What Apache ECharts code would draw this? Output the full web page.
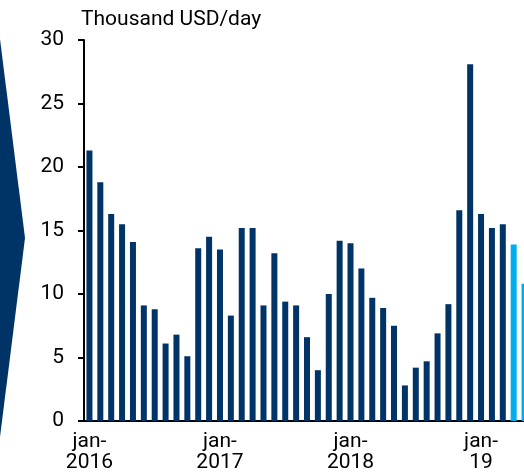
<!DOCTYPE html>
<html>
<head>
<meta charset="utf-8">
<script src="https://cdn.jsdelivr.net/npm/echarts@6/dist/echarts.min.js"></script>
<style>
  html, body { margin: 0; padding: 0; background: #fff; }
  #chart { width: 524px; height: 474px; }
</style>
</head>
<body>
<div id="chart"></div>
<script>
// monthly data, jan 2016 - may 2019
const months = [
  '2016-01', '2016-02', '2016-03', '2016-04', '2016-05', '2016-06', '2016-07', '2016-08', '2016-09', '2016-10', '2016-11', '2016-12',
  '2017-01', '2017-02', '2017-03', '2017-04', '2017-05', '2017-06', '2017-07', '2017-08', '2017-09', '2017-10', '2017-11', '2017-12',
  '2018-01', '2018-02', '2018-03', '2018-04', '2018-05', '2018-06', '2018-07', '2018-08', '2018-09', '2018-10', '2018-11', '2018-12',
  '2019-01', '2019-02', '2019-03', '2019-04', '2019-05'
];
const rates = [
  21.3, 18.8, 16.3, 15.5, 14.1, 9.1, 8.8, 6.1, 6.8, 5.1, 13.6, 14.5,
  13.5, 8.3, 15.2, 15.2, 9.1, 13.2, 9.4, 9.1, 6.6, 4.0, 10.0, 14.2,
  14.0, 12.0, 9.7, 8.9, 7.5, 2.8, 4.2, 4.7, 6.9, 9.2, 16.6, 28.1,
  16.3, 15.2, 15.5, 13.9, 10.8
];
// last two months drawn in light blue
const highlightFrom = 39;
const tickLabels = { '2016-01': 'jan-\n2016', '2017-01': 'jan-\n2017', '2018-01': 'jan-\n2018', '2019-01': 'jan-\n19' };

const navy = '#003366';
const lightBlue = '#00AEEF';

const chart = echarts.init(document.getElementById('chart'));

chart.setOption({
  animation: false,
  textStyle: { fontFamily: 'Roboto' },
  title: {
    text: 'Thousand USD/day',
    left: 76,
    top: 4,
    textStyle: { fontFamily: 'Roboto', fontSize: 21, fontWeight: 'normal', color: '#000' }
  },
  graphic: [{
    type: 'polygon',
    shape: { points: [[0, 39], [25, 238], [0, 437]] },
    style: { fill: navy }
  }],
  grid: { left: 84, right: -6, top: 40, bottom: 53, outerBoundsMode: 'none' },
  xAxis: {
    type: 'category',
    data: months,
    axisLine: { lineStyle: { color: '#000', width: 2 } },
    axisTick: { show: false },
    axisLabel: {
      interval: 11,
      color: '#000',
      fontSize: 21,
      lineHeight: 21,
      margin: 10,
      formatter: v => tickLabels[v] || ''
    }
  },
  yAxis: {
    type: 'value',
    min: 0,
    max: 30,
    interval: 5,
    axisLine: { show: true, lineStyle: { color: '#000', width: 2 } },
    axisTick: { show: true, length: 6, lineStyle: { color: '#000', width: 2 } },
    splitLine: { show: false },
    axisLabel: { color: '#000', fontSize: 21, margin: 20 }
  },
  series: [{
    type: 'bar',
    barWidth: 6,
    data: rates.map((v, i) => ({
      value: v,
      itemStyle: { color: i >= highlightFrom ? lightBlue : navy }
    }))
  }]
});
</script>
</body>
</html>
